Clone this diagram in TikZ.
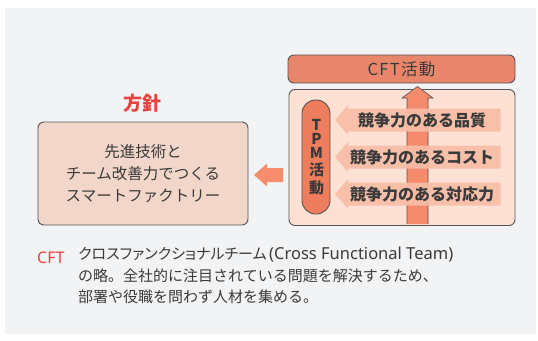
\documentclass[tikz,border=0pt]{standalone}
\usepackage{fontspec}
\setmainfont{Noto Sans CJK JP}
\newfontfamily\cjk{Noto Sans CJK JP}
\newfontfamily\cjkp{Noto Sans CJK JP}[RawFeature=+palt]
\newfontfamily\cjkls{Noto Sans CJK JP}[LetterSpace=8]
\newfontfamily\latsans{Noto Sans}
\definecolor{bggray}{HTML}{F2F3F5}
\definecolor{cftfill}{HTML}{E8866B}
\definecolor{panelfill}{HTML}{FDE1D5}
\definecolor{tpmfill}{HTML}{EE7D5D}
\definecolor{uparrow}{HTML}{F38B6C}
\definecolor{bandfill}{HTML}{F8BDA6}
\definecolor{leftfill}{HTML}{F2D6C9}
\definecolor{leftarrow}{HTML}{F58D6E}
\definecolor{bordergray}{HTML}{555555}
\definecolor{txtgray}{HTML}{3A3A3A}
\definecolor{redtxt}{HTML}{E8423C}
\tikzset{
  frame/.style={draw=bordergray, line width=0.9pt, rounded corners=6pt},
  cftbox/.style={frame, fill=cftfill, minimum width=227pt, minimum height=28pt, inner sep=0pt,
    font=\cjkls\fontsize{16.5}{18}\selectfont, text=txtgray},
  panel/.style={frame, fill=panelfill, minimum width=226pt, minimum height=136pt, inner sep=0pt},
  pill/.style={draw=bordergray, line width=0.9pt, fill=tpmfill, rounded corners=13.5pt,
    minimum width=28pt, minimum height=114pt, inner sep=0pt},
  leftbox/.style={frame, fill=leftfill, minimum width=210pt, minimum height=103pt, inner sep=0pt,
    align=center, font=\cjk\fontsize{15.5}{22}\selectfont, text=txtgray},
  bandtxt/.style={font=\cjk\bfseries\fontsize{16}{18}\selectfont, text=txtgray, inner sep=0pt},
  tpmtxt/.style={font=\cjk\bfseries\fontsize{15}{17}\selectfont, text=txtgray, inner sep=0pt},
  note/.style={font=\cjk\fontsize{15}{21.5}\selectfont, text=txtgray, align=left, inner sep=0pt, anchor=north west},
}
\begin{document}
\begin{tikzpicture}[x=1pt,y=-1pt]
\useasboundingbox (0,0) rectangle (538,340);
\fill[bggray] (5,8) rectangle (536,334);

% right side
\node[cftbox] (cft) at (401.5,69) {CFT活動};
\node[panel] (panel) at (402,157.5) {};
\node[pill] (tpm) at (316,157) {};
\foreach \y/\t/\nm in {125/T/t1, 139/P/t2, 153/M/t3, 170/活/t4, 188/動/t5}{
  \node[tpmtxt] (\nm) at (316.5,\y) {\t};
}

% up arrow (behind bands)
\fill[uparrow, draw=bordergray, line width=0.6pt]
  (407,224) -- (407,98) -- (402,98) -- (417.5,86.5) -- (433,98) -- (428,98) -- (428,224);

% bands
\foreach \y/\t/\nm in {120/競争力のある品質/b1, 157/競争力のあるコスト/b2, 194/競争力のある対応力/b3}{
  \fill[bandfill, opacity=0.92] (335,\y) -- (348,\y-15) -- (348,\y-11.5) -- (500.5,\y-11.5)
     -- (500.5,\y+11.5) -- (348,\y+11.5) -- (348,\y+15) -- cycle;
  \node[bandtxt] (\nm) at (422,\y) {\t};
}

% left side
\node[font=\cjk\bfseries\fontsize{19}{21}\selectfont, text=redtxt] (houshin) at (142.5,103) {方針};
\node[leftbox] (left) at (143,173.5) {先進技術と\\チーム改善力でつくる\\スマートファクトリー};
\fill[leftarrow] (254,175) -- (267,163.5) -- (267,168) -- (283,168) -- (283,182) -- (267,182) -- (267,186.5) -- cycle;

% note
\node[font=\latsans\fontsize{16}{18}\selectfont, text=redtxt, anchor=west, inner sep=0pt] (cftlbl) at (37,258) {CFT};
\node[note] (notetxt) at (78,247) {{\cjkp クロスファンクショナルチーム}\,{\latsans\fontsize{16.5}{18}\selectfont(Cross Functional Team)}\\の略。全社的に注目されている問題を解決するため、\\部署や役職を問わず人材を集める。};
\end{tikzpicture}
\end{document}
